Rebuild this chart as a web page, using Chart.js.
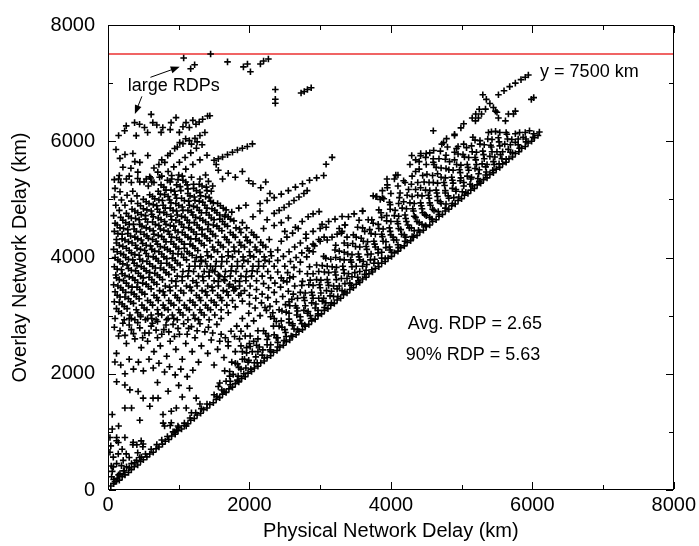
<!DOCTYPE html>
<html>
<head>
<meta charset="utf-8">
<script src="https://cdn.jsdelivr.net/npm/chart.js@4.4.1/dist/chart.umd.min.js"></script>
<style>
  body { margin: 0; background: #fff; }
  canvas { display: block; }
</style>
</head>
<body>
<canvas id="myChart" width="699" height="546"></canvas>
<script>
// axis ticks
var xTicks = [0, 2000, 4000, 6000, 8000];
var yTicks = [0, 2000, 4000, 6000, 8000];
var minorTicks = [1000, 3000, 5000, 7000];
var limitY = 7500;

// points along the lower edge (overlay ~ physical)
var edgePts = [
  [40,70],[80,110],[120,150],[160,170],[200,230],[240,260],[290,300],[330,350],[370,400],[420,430],[460,490],[500,520],[550,570],[590,620],[640,650],[680,710],[720,740],[770,790],[810,840],[860,870],[900,930],[950,960],[990,1020],[1040,1050],[1080,1110],[1130,1140],[1170,1200],[1220,1230],[1260,1290],[1310,1320],[1350,1380],[1400,1410],[1440,1470],[1490,1500],[1530,1560],[1580,1590],[1620,1650],[1670,1680],[1710,1740],[1760,1770],[1800,1830],[1850,1860],[1890,1920],[1940,1950],[1980,2010],[2030,2040],[2070,2100],[2120,2130],[2160,2190],[2210,2220],[2250,2280],[2300,2310],[2340,2370],[2390,2400],[2430,2460],[2480,2490],[2520,2550],[2570,2580],[2610,2640],[2660,2670],[2700,2730],[2750,2760],[2790,2820],[2840,2850],[2880,2910],[2930,2940],[2970,3000],[3020,3030],[3060,3090],[3110,3120],[3150,3180],[3200,3210],[3240,3270],[3290,3300],[3330,3360],[3380,3390],[3420,3450],[3470,3480],[3510,3540],[3560,3570],[3600,3630],[3650,3660],[3690,3720],[3740,3750],[3780,3810],[3830,3840],[3870,3900],[3920,3930],[3960,3990],[4010,4020],[4050,4080],[4100,4110],[4140,4170],[4190,4200],[4230,4260],[4280,4290],[4320,4350],[4370,4380],[4410,4440],[4460,4470],[4500,4530],[4550,4560],[4590,4620],[4640,4650],[4680,4710],[4730,4740],[4770,4800],[4820,4830],[4860,4890],[4910,4920],[4950,4980],[5000,5010],[5040,5070],[5090,5100],[5130,5160],[5180,5190],[5220,5250],[5270,5280],[5310,5340],[5360,5370],[5400,5430],[5450,5460],[5490,5520],[5540,5550],[5580,5610],[5630,5640],[5670,5700],[5720,5730],[5760,5790],[5810,5820],[5850,5880],[5900,5910],[5940,5970],[5990,6000],[6030,6060],[6080,6100],[6100,6160],
  [80,180],[150,260],[220,330],[300,380],[380,470],[450,560],[530,620],[610,700],[690,780],[760,860],[840,920],[920,1000],[1000,1080],[1080,1150],[1160,1240],[1240,1330],[1320,1400],[1400,1480]
];

// dense band just above the edge
var bandPts = [
  [1540,1610],[1640,1700],[1730,1810],[1830,1890],[1920,2000],[2020,2080],[2110,2190],[2210,2270],[2300,2380],[2400,2460],[2490,2570],[2590,2650],[2680,2760],[2780,2840],[2870,2950],[2970,3030],[3060,3140],[3160,3220],[3250,3330],[3350,3410],[3440,3520],[3540,3600],[3630,3710],[3730,3790],[3820,3900],[3920,3980],[4010,4090],[4110,4170],[4200,4280],[4300,4360],[4390,4470],[4490,4550],[4580,4660],[4680,4740],[4770,4850],[4870,4930],[4960,5040],[5060,5120],[5150,5230],[5250,5310],[5340,5420],[5440,5500],[5530,5610],[5630,5690],[5720,5800],[5820,5880],[5910,5990],[6010,6070],
  [1500,1640],[1610,1720],[1730,1870],[1840,1960],[1950,2100],[2070,2190],[2180,2320],[2290,2410],[2400,2540],[2520,2640],[2630,2770],[2740,2860],[2860,3000],[2970,3090],[3080,3220],[3190,3330],[3310,3430],[3420,3560],[3530,3660],[3650,3780],[3760,3900],[3870,3990],[3990,4130],[4100,4220],[4210,4350],[4330,4460],[4440,4570],[4550,4690],[4670,4790],[4780,4920],[4890,5030],[5010,5130],[5120,5260],[5230,5360],[5350,5470],[5460,5600],[5570,5700],[5690,5810],[5800,5940],[5910,6040],[6020,6130],
  [1560,1780],[1670,1870],[1770,1990],[1880,2080],[1980,2200],[2090,2290],[2190,2410],[2300,2500],[2400,2620],[2510,2710],[2610,2830],[2720,2920],[2820,3040],[2930,3130],[3030,3250],[3140,3340],[3240,3460],[3350,3550],[3450,3670],[3560,3760],[3660,3880],[3770,3970],[3870,4090],[3980,4180],[4080,4300],[4190,4390],[4290,4510],[4400,4600],[4500,4720],[4610,4810],[4710,4930],[4820,5020],[4920,5140],[5030,5230],[5130,5350],[5240,5440],[5340,5560],[5450,5650],[5550,5770],[5660,5860],[5760,5980],[5870,6070],[5960,6180],
  [1580,1840],[1720,1960],[1850,2110],[1990,2230],[2120,2380],[2250,2500],[2380,2620],[2500,2760],[2610,2860],[2720,2980],[2830,3070],[2940,3200],[3050,3300],[3160,3420],[3270,3510],[3380,3640],[3490,3740],[3600,3850],[3710,3960],[3820,4080],[3930,4170],[4040,4300],[4150,4400],[4260,4510],[4370,4620],[4480,4740],[4590,4830],[4700,4960],[4810,5060],[4920,5170],[5030,5290],[5140,5380],[5250,5510],[5360,5600],[5470,5730],[5580,5820],[5690,5940],[5800,6040],[5900,6150],
  [1720,2040],[1830,2170],[1930,2250],[2040,2380],[2140,2460],[2250,2590],[2350,2670],[2460,2800],[2560,2880],[2670,3010],[2770,3090],[2880,3220],[2980,3300],[3090,3430],[3190,3510],[3300,3640],[3400,3720],[3510,3850],[3610,3930],[3720,4060],[3820,4140],[3930,4270],[4030,4350],[4140,4480],[4240,4560],[4350,4690],[4450,4770],[4560,4900],[4660,4980],[4770,5110],[4870,5190],[4980,5320],[5080,5400],[5190,5530],[5290,5610],[5400,5740],[5500,5820],[5610,5950],[5710,6030],[5820,6150],
  [1650,2050],[1800,2180],[1960,2360],[2100,2490],[2270,2650],[2420,2820],[2560,2940],[2680,3080],[2790,3170],[2900,3300],[3010,3390],[3120,3520],[3230,3620],[3340,3730],[3450,3840],[3560,3960],[3670,4050],[3780,4180],[3890,4280],[4000,4390],[4110,4500],[4220,4620],[4330,4710],[4440,4840],[4550,4940],[4660,5050],[4770,5150],[4880,5280],[4990,5370],[5100,5500],[5210,5600],[5320,5700],[5430,5820],[5540,5920],[5650,6040],[5760,6130],
  [1900,2380],[2010,2470],[2120,2600],[2230,2690],[2340,2820],[2450,2910],[2560,3040],[2670,3130],[2780,3260],[2890,3350],[3000,3480],[3110,3570],[3220,3700],[3330,3790],[3440,3920],[3550,4010],[3660,4140],[3770,4230],[3880,4360],[3990,4450],[4100,4580],[4210,4670],[4320,4800],[4430,4890],[4540,5020],[4650,5110],[4760,5240],[4870,5330],[4980,5460],[5090,5550],[5200,5680],[5310,5770],[5420,5900],[5530,5990],[5640,6120],
  [2000,2520],[2200,2740],[2380,2900],[2520,3060],[2650,3170],[2770,3310],[2880,3400],[2990,3530],[3100,3620],[3210,3750],[3320,3850],[3430,3960],[3540,4060],[3650,4190],[3760,4280],[3870,4400],[3980,4510],[4090,4620],[4200,4730],[4310,4840],[4420,4940],[4530,5070],[4640,5160],[4750,5290],[4860,5380],[4970,5510],[5080,5600],[5190,5720],[5300,5830],[5410,5930],[5520,6060],[5630,6150],
  [2350,2950],[2460,3080],[2570,3170],[2680,3300],[2790,3390],[2900,3520],[3010,3610],[3120,3740],[3230,3830],[3340,3960],[3450,4050],[3560,4180],[3670,4270],[3780,4400],[3890,4490],[4000,4620],[4110,4710],[4220,4840],[4330,4930],[4440,5060],[4550,5150],[4660,5280],[4770,5370],[4880,5500],[4990,5590],[5100,5720],[5210,5810],[5320,5940],[5430,6030],[5540,6150],
  [2300,2980],[2560,3240],[2720,3400],[2840,3530],[2950,3620],[3060,3750],[3170,3840],[3280,3970],[3390,4060],[3500,4190],[3610,4280],[3720,4410],[3830,4500],[3940,4630],[4050,4720],[4160,4850],[4270,4940],[4380,5070],[4490,5160],[4600,5290],[4710,5380],[4820,5510],[4930,5600],[5040,5730],[5150,5820],[5260,5950],[5370,6040],[5480,6170],
  [2620,3370],[2740,3520],[2860,3610],[2980,3760],[3100,3850],[3220,4000],[3340,4090],[3460,4240],[3580,4330],[3700,4480],[3820,4570],[3940,4720],[4060,4810],[4180,4960],[4300,5050],[4420,5200],[4540,5290],[4660,5440],[4780,5530],[4900,5680],[5020,5770],[5140,5920],[5260,6010],[5380,6150],
  [2750,3590],[2900,3720],[3030,3860],[3150,3970],[3270,4110],[3390,4210],[3510,4350],[3630,4450],[3750,4590],[3870,4690],[3990,4830],[4110,4930],[4230,5070],[4350,5170],[4470,5300],[4590,5410],[4710,5540],[4830,5650],[4950,5780],[5070,5890],[5190,6020],
  [2820,3720],[2950,3870],[3080,3990],[3210,4130],[3340,4250],[3470,4390],[3600,4510],[3730,4650],[3860,4770],[3990,4910],[4120,5030],[4250,5170],[4380,5290],[4510,5430],[4640,5550],[4770,5690],[4900,5810],[5030,5950],[5160,6070],
  [2850,3840],[3050,4020],[3220,4210],[3380,4350],[3530,4520],[3680,4650],[3830,4820],[3980,4950],[4130,5110],[4290,5260],[4450,5410],[4610,5600],[4780,5760],[4950,5910],
  [3900,5010],[4000,5100],[4100,5230],[4200,5290],[4300,5400],[4400,5520],[4500,5600],[4600,5700],[4700,5830],[4800,5900],
  [3100,4300],[3350,4560],[3600,4800],[3750,5060],[3950,5200],[4180,5320],[4400,5650],[4550,5800],[4720,5950],[4900,6100],[4350,5480],[3880,5030],
  [2260,3310],[2350,3400],[2290,3160],[2380,3240],[2470,3330],[2420,3100],[2510,3190],[2600,3280],[2550,3420],[2640,3510],[2330,3050],[2220,3140],[2480,3600],[2570,3650]
];

// upper-left cloud of points
var cloudPts = [
  [90,5340],[160,5410],[100,5190],[180,5290],[260,5350],[90,5040],[170,5130],[330,5290],[420,5360],
  [110,4900],[190,4990],[270,5070],[350,5140],[510,5300],[590,5390],
  [80,4720],[160,4810],[240,4900],[330,4970],[410,5060],[570,5230],[650,5290],[730,5380],
  [130,4560],[210,4640],[290,4710],[380,4800],[460,4890],[540,4960],[630,5050],[710,5140],[790,5210],[880,5300],
  [100,4590],[180,4690],[260,4760],[340,4830],[420,4930],[500,5000],[590,5080],[750,5250],[840,5330],[900,5410],
  [140,4410],[220,4500],[300,4570],[390,4670],[470,4740],[550,4820],[640,4910],[720,4990],[800,5080],[890,5160],[970,5250],[1060,5330],
  [90,4450],[170,4510],[250,4600],[330,4680],[420,4770],[500,4840],[580,4930],[660,5010],[740,5090],[820,5160],[990,5340],[1050,5400],
  [120,4250],[200,4320],[280,4410],[370,4490],[450,4570],[530,4660],[620,4740],[700,4830],[780,4900],[870,4990],[950,5080],[1030,5150],[1120,5250],
  [120,4310],[200,4400],[280,4480],[360,4570],[440,4650],[530,4720],[610,4800],[690,4890],[770,4980],[850,5050],[940,5140],[1020,5220],[1100,5300],[1180,5380],
  [130,4100],[210,4190],[290,4270],[380,4350],[460,4440],[540,4510],[630,4610],[710,4680],[790,4770],[880,4850],[960,4930],[1040,5020],[1130,5100],[1210,5190],[1290,5260],
  [80,4140],[160,4210],[240,4300],[320,4370],[400,4450],[480,4540],[560,4610],[640,4700],[730,4780],[810,4850],[890,4940],[970,5020],[1130,5180],[1210,5260],[1300,5350],[1380,5420],
  [140,3960],[220,4050],[300,4120],[390,4210],[470,4300],[550,4370],[640,4460],[720,4550],[800,4620],[890,4710],[970,4800],[1050,4870],[1140,4970],[1220,5040],[1300,5120],[1390,5210],
  [100,4000],[180,4070],[260,4160],[340,4250],[420,4320],[510,4400],[590,4490],[670,4570],[750,4650],[830,4740],[920,4810],[1000,4900],[1080,4980],[1160,5060],[1250,5150],[1330,5230],[1420,5310],
  [130,3800],[210,3890],[290,3970],[380,4050],[460,4140],[540,4210],[630,4310],[710,4380],[790,4470],[880,4550],[960,4640],[1040,4710],[1130,4810],[1210,4880],[1290,4970],[1380,5050],[1460,5140],
  [90,3840],[170,3930],[250,4000],[330,4080],[410,4160],[490,4240],[570,4330],[650,4400],[740,4490],[820,4570],[900,4650],[980,4730],[1060,4810],[1150,4900],[1230,4980],[1310,5060],[1400,5150],[1480,5230],
  [120,3650],[200,3720],[290,3810],[370,3900],[450,3970],[540,4070],[620,4140],[700,4230],[790,4310],[870,4400],[950,4470],[1040,4570],[1120,4640],[1200,4730],[1290,4810],[1370,4900],[1450,4970],
  [110,3700],[190,3790],[270,3870],[350,3960],[440,4040],[520,4120],[600,4200],[680,4280],[760,4360],[850,4450],[930,4540],[1010,4610],[1090,4690],[1180,4780],[1260,4860],[1340,4950],[1430,5030],
  [140,3510],[220,3600],[300,3670],[390,3770],[470,3840],[550,3930],[640,4010],[720,4100],[800,4170],[890,4270],[970,4340],[1050,4430],[1140,4510],[1220,4600],[1300,4670],[1390,4770],[1470,4840],[1550,4930],
  [80,3530],[160,3620],[240,3690],[330,3780],[410,3860],[490,3940],[570,4020],[660,4110],[740,4190],[820,4270],[900,4350],[990,4440],[1070,4520],[1150,4600],[1240,4690],[1320,4770],[1400,4850],[1490,4940],
  [130,3350],[210,3440],[290,3510],[380,3610],[460,3680],[540,3770],[630,3850],[710,3940],[790,4010],[880,4110],[960,4180],[1040,4270],[1130,4350],[1210,4440],[1290,4510],[1380,4610],[1460,4680],[1540,4770],[1630,4850],
  [100,3410],[180,3480],[260,3560],[350,3650],[430,3730],[510,3810],[590,3890],[680,3980],[760,4060],[840,4140],[930,4230],[1010,4310],[1090,4390],[1180,4480],[1260,4560],[1340,4640],[1430,4730],[1510,4810],[1590,4890],
  [160,3230],[240,3320],[330,3400],[410,3490],[490,3560],[580,3660],[660,3730],[740,3820],[830,3900],[910,3990],[990,4060],[1080,4160],[1160,4230],[1240,4320],[1330,4400],[1410,4490],[1490,4560],[1580,4660],[1660,4730],
  [90,3240],[170,3320],[250,3400],[340,3490],[420,3570],[500,3650],[590,3740],[670,3820],[750,3900],[830,3980],[920,4070],[1000,4150],[1080,4230],[1170,4320],[1250,4400],[1330,4480],[1420,4570],[1500,4650],[1580,4730],[1670,4820],
  [150,3070],[230,3160],[320,3240],[400,3330],[480,3400],[570,3500],[650,3570],[730,3660],[820,3740],[900,3830],[980,3900],[1070,4000],[1150,4070],[1230,4160],[1320,4240],[1400,4330],[1480,4400],[1570,4500],[1650,4570],[1730,4660],
  [120,3120],[200,3200],[290,3290],[370,3370],[450,3450],[540,3540],[620,3620],[700,3700],[790,3790],[870,3870],[950,3950],[1040,4060],[1120,4100],[1200,4200],[1290,4290],[1370,4370],[1450,4450],[1540,4540],[1620,4620],[1700,4700],
  [100,2950],[190,3040],[270,3120],[360,3210],[440,3290],[520,3370],[610,3460],[690,3540],[770,3620],[860,3710],[940,3790],[1020,3870],[1110,3960],[1190,4040],[1270,4120],[1360,4210],[1440,4290],[1520,4370],[1610,4460],[1690,4540],[1780,4630],
  [230,2930],[310,3010],[400,3100],[480,3180],[560,3260],[650,3350],[730,3430],[810,3510],[900,3600],[980,3680],[1060,3760],[1150,3850],[1230,3930],[1310,4010],[1400,4100],[1480,4180],[1560,4260],[1650,4350],[1730,4430],[1810,4510],[1900,4600],
  [330,2950],[420,3050],[510,3130],[600,3230],[690,3310],[780,3410],[870,3490],[960,3590],[1050,3670],[1140,3770],[1230,3850],[1320,3950],[1410,4030],[1500,4130],[1590,4210],[1680,4310],[1770,4390],[1860,4490],
  [380,2930],[460,3010],[550,3100],[630,3180],[710,3260],[800,3350],[880,3430],[960,3510],[1050,3600],[1130,3680],[1210,3760],[1300,3850],[1380,3930],[1460,4010],[1550,4100],[1630,4180],[1710,4260],[1800,4350],[1880,4430],[1960,4510],
  [530,2930],[610,3010],[700,3100],[780,3180],[860,3260],[950,3350],[1030,3430],[1110,3510],[1200,3600],[1280,3680],[1360,3760],[1450,3850],[1530,3930],[1610,4010],[1700,4100],[1780,4180],[1860,4260],[1950,4350],[2030,4430],
  [620,2950],[710,3030],[800,3130],[890,3210],[980,3310],[1070,3390],[1160,3490],[1250,3570],[1340,3670],[1430,3750],[1520,3850],[1610,3930],[1700,4030],[1790,4110],[1880,4210],[1970,4290],[2060,4390],
  [680,2930],[760,3010],[850,3100],[930,3180],[1010,3260],[1180,3430],[1260,3510],[1350,3600],[1430,3680],[1510,3760],[1600,3850],[1680,3930],[1760,4010],[1850,4100],[1930,4180],[2010,4260],[2100,4350],
  [830,2930],[910,3010],[1000,3100],[1080,3180],[1160,3260],[1250,3350],[1330,3430],[1410,3510],[1500,3600],[1580,3680],[1660,3760],[1750,3850],[1830,3930],[1910,4010],[2000,4100],[2080,4180],[2160,4260],
  [930,2950],[1020,3050],[1110,3130],[1200,3230],[1290,3310],[1380,3410],[1470,3490],[1560,3590],[1650,3670],[1740,3770],[1830,3850],[1920,3950],[2010,4030],[2100,4130],[2190,4210],[2280,4310],
  [980,2930],[1060,3010],[1150,3100],[1230,3180],[1310,3260],[1400,3350],[1480,3430],[1560,3510],[1650,3600],[1730,3680],[1810,3760],[1900,3850],[1980,3930],[2060,4010],[2150,4100],[2230,4180],
  [1130,2930],[1210,3010],[1300,3100],[1380,3180],[1460,3260],[1550,3350],[1630,3430],[1710,3510],[1800,3600],[1880,3680],[1960,3760],[2050,3850],[2130,3930],[2210,4010],[2300,4100],
  [1230,2950],[1320,3050],[1410,3130],[1500,3230],[1590,3310],[1680,3410],[1770,3490],[1860,3590],[1950,3670],[2040,3770],[2130,3850],[2220,3950],[2310,4030],[2400,4130],
  [1280,2930],[1360,3010],[1450,3100],[1530,3180],[1610,3260],[1700,3350],[1780,3430],[1860,3510],[1950,3600],[2030,3680],[2110,3760],[2200,3850],[2280,3930],
  [1430,2930],[1510,3010],[1600,3100],[1680,3180],[1760,3260],[1850,3350],[1930,3430],[2010,3510],[2100,3600],[2180,3680],[2260,3760],[2350,3850],
  [1600,2950],[1700,3050],[1800,3150],[1900,3250],[2000,3350],[2100,3450],[2200,3550],[2300,3650],[2400,3750],
  [2000,3200],[2090,3300],[2180,3370],[2270,3480],[2360,3560],[2450,3650],[2540,3740],[2630,3830],[2720,3920],[2810,4010],[2900,4100],
  [1900,2950],[1990,3040],[2080,3130],[2170,3220],[2440,3490],[2530,3580],[2620,3670],[2710,3760],
  [1700,2550],[1790,2640],[1880,2730],[1970,2820],[2060,2910],[2150,3000],[2240,3090],
  [1250,4000],[1320,3930],[1400,3850],[1480,3780],[1560,3700],[1640,3620],[1720,3540],[1800,3460],[1880,3380],
  [2400,3950],[2480,4020],[2560,4100],[2640,4180],[2720,4250],[2800,4330],[2500,3850],[2580,3930],[2660,4000],[2740,4080],[2820,4160],[2900,4230],[2980,4310],[2450,4280],[2530,4350],[2610,4420],[2690,4500],
  [113,5858],[169,5705],[240,5773],[352,5790],[211,5553],[324,5536],[422,5468],[450,5637],[450,5299],[563,5756],[605,5367],[704,5468],[803,5637],[845,5756],[943,5875],[1014,5976],[1098,6044],[650,5540],[720,5600],[760,5680],[880,5790],[980,5900],[1060,5960],[1150,6010],[1230,6050],[1300,6100],[1370,6150],[1180,5950],[1260,5990],[760,5400],[850,5480],[930,5560],[1010,5640],[1090,5720],[1170,5800],[1250,5880],[1330,5940],[540,5350],[620,5300],[1100,5520],[1200,5600],[1300,5680],[1400,5760],[300,5400],[150,5350],[380,5650],[900,5350],[1000,5420],
  [235,6180],[258,6265],[399,6096],[376,6321],[446,6293],[516,6237],[610,6463],[634,6321],[751,6152],[775,6237],[892,6321],[962,6406],[1009,6152],[1103,6321],[1150,6237],[1244,6293],[1338,6378],[1408,6434],[1440,6440],[1060,6250],[1200,6360],[1290,6330],[880,6200],[690,6280],[150,6100],[560,6150],
  [1560,5500],[1700,5450],[1800,5380],[1900,5480],[1990,5320],[2050,5270],[1620,5350],[2160,5200],[2230,5300],[2290,5100],
  [1500,5672],[1560,5700],[1620,5730],[1690,5770],[1760,5810],[1830,5850],[1900,5880],[1970,5910],[2042,5954],[1530,5600],
  [2350,4760],[2420,4810],[2490,4860],[2560,4920],[2630,4980],[2700,5040],[2770,5100],[2816,5150],
  [2150,4930],[2250,4980],[2350,5030],[2450,5090],[2550,5150],[2650,5210],[2750,5270],[2850,5330],[2950,5370],[3050,5410],
  [1650,4700],[1750,4780],[1850,4850],[1950,4900],[2050,4700],[2150,4800],[2250,4650],[2350,4550],[2450,4600],[2550,4680],[2200,4500],[2500,4450],[2650,4520],
  [2746,4620],[2830,4700],[2900,4750],[2985,4790],[2800,4400],[2900,4450],[3000,4500],[3084,4520],[2844,4115],[2920,4200],[3000,4280],[3056,4350],[3027,4570],[3120,4620],[3210,4660],[3310,4706],[3168,4350],[3240,4400],[3310,4450],[3270,4500],[3350,4560],[3400,4700],[3480,4750],[3550,4640],[3600,4800],[3300,4420],
  [3800,5050],[3880,5150],[3950,5250],[4050,5350],[4100,5420],[3850,5000],[4270,5600],[4350,5680],[4420,5750],[4500,5790],[4600,5640],[4680,5700]
];

// lower-left scattered points
var lowPts = [
  [90,2800],[150,2650],[210,2870],[260,2520],[330,2760],[380,2600],[420,2880],[470,2450],[520,2700],[560,2560],[610,2820],[650,2380],[700,2620],[740,2480],[790,2760],[830,2300],[880,2560],[920,2850],[960,2420],[1010,2680],[1050,2250],[1100,2520],[1140,2780],[1190,2380],[1230,2620],[1280,2200],[1320,2480],[1370,2720],[1410,2350],[1460,2580],[1500,2150],[1550,2420],[1600,2680],[1640,2280],[1700,2480],[1750,2200],[1800,2380],[1860,2600],[1900,2250],[1960,2450],[2010,2650],
  [170,2740],[240,2660],[300,2840],[360,2690],[450,2790],[490,2620],[580,2700],[630,2870],[680,2750],[760,2680],[820,2840],[860,2720],[940,2640],[990,2780],[1070,2860],[1120,2680],[1180,2810],[1260,2740],[1300,2860],[1420,2800],[1480,2700],[1540,2850],[1580,2560],[1660,2620],[1740,2730],[1820,2820],[1880,2480],[1940,2650],[2060,2560],[2120,2740],
  [120,2350],[180,2150],[240,2000],[300,2250],[360,2080],[430,2200],[500,2050],[580,2250],[640,2100],[720,2180],[800,2030],[870,2120],[950,1980],[1030,2080],[1120,1950],[1200,2060],[560,2950],[700,2900],[850,2950],[300,2950],[460,2980],
  [98,2202],[122,1863],[239,1807],[309,1722],[426,1694],[497,1581],[637,1581],[708,1581],[239,1412],[333,1412],[591,1440],[778,1299],[895,1356],[966,1412],[1106,1412],[895,1158],[989,1102],[1106,1102],[942,1000],[1153,1750],[1247,1581],[1300,1480],[850,1700],[1000,1800],[1050,1600],[700,1850],[60,1300],[150,1100],[450,1200],[1180,1330],
  [28,650],[75,566],[145,622],[122,453],[215,509],[262,397],[333,453],[403,509],[473,566],[28,904],[122,848],[239,904],[356,820],[497,792],[75,397],[169,284],[51,228],[98,143],[122,903],[146,818],[352,779],[408,779],[469,846],[493,745],[258,621],[45,414],[60,320],[190,420],[300,560],[420,640],[780,1150],[800,1100],[880,1110],[970,1030],[60,1050],[40,760],[200,700],[130,200],[230,330]
];

// far outliers (large RDPs and the upper-right streak)
var farPts = [
  [1070,7433],[1451,7500],[1169,7247],[1225,7315],[1690,7365],[1915,7280],[1972,7330],[2014,7196],[2155,7330],[2200,7380],[2268,7416],[2366,6891],[2366,6722],[2366,6654],[2730,6830],[2775,6857],[2820,6890],[2873,6920],[3084,5604],[3169,5723],
  [5300,6800],[5350,6720],[5400,6650],[5450,6580],[5200,6470],[5150,6400],[5250,6550],[5500,6500],[4990,6230],[5030,6300],[4600,6180],[4900,6120],
  [5521,6800],[5600,6870],[5680,6940],[5760,7000],[5840,7060],[5900,7100],[5944,7140],[5986,6720],[6020,6750],[5662,6468],[5760,6519],
  [3789,5045],[3945,5350],[4070,5418],[4295,5756],[4422,5790],[4492,5722],[4605,5841],[4745,5977],[4787,6045],[5196,6350],[5238,6400],[5282,6468],[5338,6553],[5479,6519],[5521,6400],[5620,6350],[5733,6468],[5422,6163],[4928,5875]
];

var allPts = edgePts.concat(bandPts, cloudPts, lowPts, farPts).map(function (p) {
    return { x: p[0], y: p[1] };
});

var font = '"Liberation Sans", Arial, Helvetica, sans-serif';

var decor = {
    id: "decor",
    afterDraw: function (chart) {
        var c = chart.ctx;
        var sx = chart.scales.x;
        var sy = chart.scales.y;
        var L = Math.round(sx.getPixelForValue(0));
        var R = Math.round(sx.getPixelForValue(8000)) - 1;
        var T = Math.round(sy.getPixelForValue(8000));
        var B = Math.round(sy.getPixelForValue(0)) - 1;

        c.save();
        c.globalAlpha = 1;
        c.fillStyle = "#000";
        // frame
        c.fillRect(L, T, R - L + 1, 1);
        c.fillRect(L, B, R - L + 1, 1);
        c.fillRect(L, T, 1, B - T + 1);
        c.fillRect(R, T, 1, B - T + 1);

        // inward ticks on all four sides
        function tickX(v, len) {
            var px = Math.round(sx.getPixelForValue(v));
            c.fillRect(px, B - len, 1, len);
            c.fillRect(px, T + 1, 1, len);
        }
        function tickY(v, len) {
            var py = Math.round(sy.getPixelForValue(v));
            c.fillRect(L + 1, py, len, 1);
            c.fillRect(R - len, py, len, 1);
        }
        xTicks.forEach(function (v) { tickX(v, 7); });
        yTicks.forEach(function (v) { tickY(v, 7); });
        minorTicks.forEach(function (v) { tickX(v, 4); tickY(v, 4); });

        // notes
        c.font = "18px " + font;
        c.textAlign = "left";
        c.textBaseline = "alphabetic";
        c.fillText("large RDPs", sx.getPixelForValue(280), sy.getPixelForValue(6860));
        c.fillText("y = 7500 km", sx.getPixelForValue(6110), sy.getPixelForValue(7110));
        c.fillText("Avg. RDP = 2.65", sx.getPixelForValue(4238), sy.getPixelForValue(2768));
        c.fillText("90% RDP = 5.63", sx.getPixelForValue(4210), sy.getPixelForValue(2235));

        function arrow(x1, y1, x2, y2) {
            var p1x = sx.getPixelForValue(x1), p1y = sy.getPixelForValue(y1);
            var p2x = sx.getPixelForValue(x2), p2y = sy.getPixelForValue(y2);
            var ang = Math.atan2(p2y - p1y, p2x - p1x);
            c.strokeStyle = "#000";
            c.lineWidth = 1;
            c.setLineDash([]);
            c.beginPath();
            c.moveTo(p1x, p1y);
            c.lineTo(p2x - 6 * Math.cos(ang), p2y - 6 * Math.sin(ang));
            c.stroke();
            c.beginPath();
            c.moveTo(p2x, p2y);
            c.lineTo(p2x - 9 * Math.cos(ang) + 3.5 * Math.sin(ang), p2y - 9 * Math.sin(ang) - 3.5 * Math.cos(ang));
            c.lineTo(p2x - 9 * Math.cos(ang) - 3.5 * Math.sin(ang), p2y - 9 * Math.sin(ang) + 3.5 * Math.cos(ang));
            c.closePath();
            c.fill();
        }
        arrow(600, 7100, 1014, 7280);
        arrow(479, 6772, 380, 6467);
        c.restore();
    },
};

var ctx = document.getElementById("myChart").getContext("2d");
var lienzo = new Chart(ctx, {
    type: "scatter",
    data: {
        datasets: [
            {
                label: "RDP",
                data: allPts,
                pointStyle: "cross",
                pointRadius: 3.3,
                borderColor: "#000",
                backgroundColor: "#000",
                borderWidth: 1.6,
            },
            {
                type: "line",
                label: "y = 7500 km",
                data: [{ x: 0, y: limitY }, { x: 8000, y: limitY }],
                borderColor: "rgb(240, 100, 100)",
                borderWidth: 2,
                pointRadius: 0,
            },
        ],
    },
    options: {
        responsive: false,
        animation: false,
        devicePixelRatio: 1,
        layout: { padding: { top: 17, right: 23, left: 0, bottom: 0 } },
        plugins: { legend: { display: false }, tooltip: { enabled: false } },
        scales: {
            x: {
                type: "linear",
                min: 0,
                max: 8000,
                afterBuildTicks: function (s) { s.ticks = xTicks.map(function (v) { return { value: v }; }); },
                afterFit: function (s) { s.height = 56; },
                grid: { display: false, drawTicks: false },
                border: { display: false },
                ticks: { color: "#000", padding: 3, font: { family: font, size: 20 }, callback: function (v) { return String(v); } },
                title: { display: true, text: "Physical Network Delay (km)", color: "#000", font: { family: font, size: 20 }, padding: { top: 0, bottom: 3 } },
            },
            y: {
                type: "linear",
                min: 0,
                max: 8000,
                afterBuildTicks: function (s) { s.ticks = yTicks.map(function (v) { return { value: v }; }); },
                afterFit: function (s) { s.width = 108; },
                grid: { display: false, drawTicks: false },
                border: { display: false },
                ticks: { color: "#000", padding: 13, font: { family: font, size: 20 }, callback: function (v) { return String(v); } },
                title: { display: true, text: "Overlay Network Delay (km)", color: "#000", font: { family: font, size: 20 }, padding: { top: 8, bottom: 0 } },
            },
        },
    },
    plugins: [decor],
});
</script>
</body>
</html>
